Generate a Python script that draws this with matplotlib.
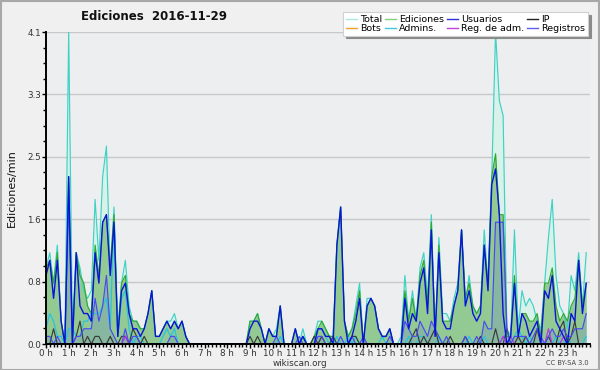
import matplotlib
matplotlib.use("Agg")
import matplotlib.pyplot as plt
import numpy as np
from matplotlib.ticker import MultipleLocator, FixedLocator, FuncFormatter
from matplotlib.lines import Line2D
from matplotlib.patches import Rectangle

# 10-minute slots, values in edits/min (6 per hour, 24 hours)
total = [
    1.0, 1.2, 0.8, 1.3, 0.3, 0.0,
    4.1, 0.2, 1.2, 1.0, 0.7, 0.6,
    0.7, 1.9, 1.1, 2.2, 2.6, 0.9,
    1.8, 0.2, 0.8, 1.1, 0.5, 0.3,
    0.3, 0.2, 0.2, 0.4, 0.7, 0.1,
    0.1, 0.2, 0.3, 0.3, 0.4, 0.2,
    0.3, 0.1, 0.0, 0.0, 0.0, 0.0,
    0.0, 0.0, 0.0, 0.0, 0.0, 0.0,
    0.0, 0.0, 0.0, 0.0, 0.0, 0.0,
    0.3, 0.3, 0.4, 0.2, 0.0, 0.2,
    0.1, 0.2, 0.5, 0.0, 0.0, 0.0,
    0.2, 0.0, 0.2, 0.0, 0.0, 0.1,
    0.3, 0.3, 0.2, 0.1, 0.1, 1.3,
    1.8, 0.3, 0.1, 0.2, 0.5, 0.8,
    0.0, 0.6, 0.6, 0.5, 0.2, 0.1,
    0.1, 0.2, 0.0, 0.0, 0.1, 0.9,
    0.3, 0.7, 0.3, 1.0, 1.2, 0.6,
    1.7, 0.1, 1.4, 0.4, 0.4, 0.3,
    0.6, 0.8, 1.5, 0.5, 0.9, 0.5,
    0.4, 0.5, 1.5, 0.8, 2.2, 4.1,
    3.2, 3.0, 0.2, 0.1, 1.5, 0.2,
    0.7, 0.5, 0.6, 0.5, 0.3, 0.2,
    0.8, 1.4, 1.9, 0.9, 0.5, 0.4,
    0.2, 0.9, 0.7, 1.2, 0.5, 1.2,
]
ediciones = [
    1.0, 1.1, 0.8, 1.2, 0.3, 0.0,
    2.2, 0.0, 1.2, 0.9, 0.8, 0.5,
    0.4, 1.3, 0.9, 1.6, 1.7, 1.0,
    1.7, 0.1, 0.8, 0.9, 0.4, 0.3,
    0.3, 0.2, 0.2, 0.4, 0.7, 0.1,
    0.1, 0.2, 0.3, 0.2, 0.3, 0.2,
    0.3, 0.1, 0.0, 0.0, 0.0, 0.0,
    0.0, 0.0, 0.0, 0.0, 0.0, 0.0,
    0.0, 0.0, 0.0, 0.0, 0.0, 0.0,
    0.3, 0.3, 0.4, 0.2, 0.0, 0.2,
    0.1, 0.1, 0.5, 0.0, 0.0, 0.0,
    0.2, 0.0, 0.1, 0.0, 0.0, 0.1,
    0.2, 0.3, 0.2, 0.1, 0.1, 1.3,
    1.8, 0.3, 0.1, 0.2, 0.4, 0.7,
    0.0, 0.5, 0.6, 0.5, 0.2, 0.1,
    0.1, 0.2, 0.0, 0.0, 0.0, 0.7,
    0.3, 0.6, 0.3, 0.9, 1.1, 0.5,
    1.6, 0.1, 1.3, 0.3, 0.3, 0.3,
    0.5, 0.7, 1.5, 0.6, 0.8, 0.5,
    0.4, 0.5, 1.3, 0.8, 2.2, 2.5,
    1.7, 1.7, 0.1, 0.1, 0.9, 0.1,
    0.4, 0.4, 0.3, 0.3, 0.4, 0.1,
    0.8, 0.8, 1.0, 0.5, 0.3, 0.4,
    0.3, 0.5, 0.6, 1.1, 0.5, 0.8,
]
usuarios = [
    0.9, 1.1, 0.6, 1.1, 0.3, 0.0,
    2.2, 0.0, 1.2, 0.5, 0.4, 0.4,
    0.3, 1.2, 0.8, 1.6, 1.7, 0.9,
    1.6, 0.1, 0.7, 0.8, 0.4, 0.2,
    0.2, 0.1, 0.2, 0.4, 0.7, 0.1,
    0.1, 0.2, 0.3, 0.2, 0.3, 0.2,
    0.3, 0.1, 0.0, 0.0, 0.0, 0.0,
    0.0, 0.0, 0.0, 0.0, 0.0, 0.0,
    0.0, 0.0, 0.0, 0.0, 0.0, 0.0,
    0.2, 0.3, 0.3, 0.2, 0.0, 0.2,
    0.1, 0.1, 0.5, 0.0, 0.0, 0.0,
    0.2, 0.0, 0.1, 0.0, 0.0, 0.0,
    0.2, 0.2, 0.1, 0.1, 0.0, 1.3,
    1.8, 0.3, 0.0, 0.1, 0.3, 0.6,
    0.0, 0.5, 0.6, 0.5, 0.2, 0.1,
    0.1, 0.2, 0.0, 0.0, 0.0, 0.6,
    0.2, 0.4, 0.3, 0.8, 1.0, 0.4,
    1.5, 0.1, 1.2, 0.3, 0.2, 0.2,
    0.5, 0.7, 1.5, 0.5, 0.7, 0.4,
    0.3, 0.4, 1.3, 0.7, 2.1, 2.3,
    1.7, 0.4, 0.0, 0.1, 0.8, 0.1,
    0.4, 0.3, 0.1, 0.2, 0.3, 0.0,
    0.7, 0.6, 0.9, 0.3, 0.2, 0.1,
    0.0, 0.4, 0.3, 1.1, 0.4, 0.8,
]
ip = [
    0.0, 0.0, 0.2, 0.0, 0.0, 0.0,
    0.0, 0.0, 0.1, 0.3, 0.0, 0.1,
    0.0, 0.1, 0.1, 0.0, 0.0, 0.1,
    0.0, 0.0, 0.1, 0.1, 0.0, 0.2,
    0.1, 0.0, 0.1, 0.0, 0.0, 0.0,
    0.0, 0.0, 0.0, 0.0, 0.0, 0.0,
    0.0, 0.0, 0.0, 0.0, 0.0, 0.0,
    0.0, 0.0, 0.0, 0.0, 0.0, 0.0,
    0.0, 0.0, 0.0, 0.0, 0.0, 0.0,
    0.1, 0.0, 0.1, 0.0, 0.0, 0.0,
    0.0, 0.0, 0.0, 0.0, 0.0, 0.0,
    0.0, 0.0, 0.0, 0.0, 0.0, 0.1,
    0.0, 0.1, 0.0, 0.0, 0.1, 0.0,
    0.0, 0.0, 0.0, 0.1, 0.1, 0.0,
    0.0, 0.0, 0.0, 0.0, 0.0, 0.0,
    0.0, 0.0, 0.0, 0.0, 0.0, 0.0,
    0.0, 0.1, 0.2, 0.0, 0.1, 0.0,
    0.1, 0.2, 0.0, 0.0, 0.0, 0.1,
    0.0, 0.0, 0.0, 0.1, 0.0, 0.0,
    0.0, 0.1, 0.0, 0.0, 0.0, 0.2,
    0.0, 0.0, 0.2, 0.0, 0.0, 0.1,
    0.0, 0.1, 0.0, 0.0, 0.2, 0.0,
    0.0, 0.1, 0.0, 0.0, 0.2, 0.3,
    0.0, 0.1, 0.3, 0.0, 0.0, 0.0,
]
admins = [
    0.2, 0.4, 0.3, 0.1, 0.1, 0.0,
    0.2, 0.2, 0.1, 0.1, 0.3, 0.3,
    0.4, 0.4, 0.4, 0.5, 0.6, 0.2,
    1.7, 0.1, 0.6, 0.7, 0.2, 0.0,
    0.1, 0.1, 0.0, 0.0, 0.0, 0.0,
    0.0, 0.1, 0.2, 0.1, 0.2, 0.0,
    0.0, 0.0, 0.0, 0.0, 0.0, 0.0,
    0.0, 0.0, 0.0, 0.0, 0.0, 0.0,
    0.0, 0.0, 0.0, 0.0, 0.0, 0.0,
    0.0, 0.0, 0.0, 0.0, 0.0, 0.0,
    0.0, 0.0, 0.1, 0.0, 0.0, 0.0,
    0.0, 0.0, 0.1, 0.0, 0.0, 0.0,
    0.2, 0.2, 0.1, 0.0, 0.0, 0.1,
    0.0, 0.0, 0.1, 0.0, 0.1, 0.0,
    0.0, 0.0, 0.0, 0.0, 0.0, 0.1,
    0.0, 0.0, 0.0, 0.0, 0.0, 0.0,
    0.1, 0.0, 0.0, 0.1, 0.1, 0.0,
    0.0, 0.0, 0.1, 0.0, 0.0, 0.0,
    0.0, 0.0, 0.0, 0.0, 0.1, 0.0,
    0.0, 0.0, 0.1, 0.0, 0.0, 0.0,
    0.0, 0.1, 0.0, 0.0, 0.1, 0.2,
    0.1, 0.0, 0.1, 0.0, 0.0, 0.0,
    0.0, 0.1, 0.0, 0.1, 0.0, 0.0,
    0.1, 0.0, 0.0, 0.0, 0.0, 0.1,
]
registros = [
    0.1, 0.1, 0.0, 0.1, 0.0, 0.0,
    1.9, 0.0, 0.1, 0.1, 0.2, 0.2,
    0.2, 0.6, 0.3, 0.5, 0.9, 0.2,
    0.1, 0.0, 0.0, 0.2, 0.0, 0.1,
    0.1, 0.0, 0.0, 0.0, 0.0, 0.0,
    0.0, 0.0, 0.0, 0.1, 0.1, 0.0,
    0.0, 0.0, 0.0, 0.0, 0.0, 0.0,
    0.0, 0.0, 0.0, 0.0, 0.0, 0.0,
    0.0, 0.0, 0.0, 0.0, 0.0, 0.0,
    0.0, 0.0, 0.0, 0.0, 0.0, 0.0,
    0.0, 0.1, 0.0, 0.0, 0.0, 0.0,
    0.0, 0.1, 0.0, 0.0, 0.0, 0.0,
    0.1, 0.1, 0.0, 0.0, 0.0, 0.0,
    0.1, 0.0, 0.0, 0.1, 0.0, 0.0,
    0.1, 0.0, 0.0, 0.0, 0.0, 0.0,
    0.0, 0.1, 0.0, 0.0, 0.0, 0.3,
    0.2, 0.1, 0.1, 0.3, 0.2, 0.1,
    0.3, 0.2, 0.1, 0.0, 0.1, 0.0,
    0.0, 0.0, 0.0, 0.1, 0.0, 0.0,
    0.1, 0.0, 0.3, 0.2, 0.2, 1.6,
    1.6, 1.6, 0.2, 0.0, 0.1, 0.1,
    0.1, 0.1, 0.0, 0.1, 0.2, 0.1,
    0.0, 0.1, 0.2, 0.1, 0.1, 0.2,
    0.1, 0.1, 0.2, 0.2, 0.2, 0.4,
]
reg_adm = [0.0] * 144
reg_adm_points = {21: 0.1, 121: 0.1, 123: 0.1, 133: 0.2, 137: 0.1}
bots = [0.0] * 144

hour_labels = [f"{h} h" for h in range(24)]
y_max = 4.1

for k, v in reg_adm_points.items():
    reg_adm[k] = v

x = np.arange(len(total)) / 6.0

fig = plt.figure(figsize=(6.0, 3.7), dpi=100, facecolor="#f0f0f0")
ax = fig.add_axes([46 / 600, 1 - 344 / 370, 544 / 600, (344 - 32) / 370])
ax.set_facecolor("#edeef0")

ax.fill_between(x, total, color="#d8f2ea", zorder=1, lw=0)
ax.fill_between(x, ediciones, color="#93c993", zorder=2, lw=0)
ax.fill_between(x, registros, color="#4a5af0", alpha=0.16, zorder=3, lw=0)

lw = 0.85
ax.plot(x, total, color="#3ed2c4", lw=lw, zorder=4)
ax.plot(x, admins, color="#22c4e6", lw=lw, zorder=5)
ax.plot(x, ediciones, color="#2faa2f", lw=lw, zorder=5)
ax.plot(x, bots, color="#f0a030", lw=lw, zorder=5)
ax.plot(x, ip, color="#3a3a3a", lw=lw, zorder=6)
ax.plot(x, reg_adm, color="#c030e0", lw=lw, zorder=6)
ax.plot(x, registros, color="#4a4af2", lw=lw, zorder=7)
ax.plot(x, usuarios, color="#0a14d8", lw=1.0, zorder=8)

ax.set_xlim(0, 24)
ax.set_ylim(0, y_max)

for s in ["top", "right"]:
    ax.spines[s].set_visible(False)
for s in ["left", "bottom"]:
    ax.spines[s].set_linewidth(1.4)
    ax.spines[s].set_color("black")
    ax.spines[s].set_zorder(20)

ax.xaxis.set_major_locator(FixedLocator(range(24)))
ax.set_xticklabels(hour_labels)
ax.xaxis.set_minor_locator(MultipleLocator(1 / 6))
ax.yaxis.set_major_locator(FixedLocator(np.linspace(0, y_max, 6)))
ax.yaxis.set_minor_locator(MultipleLocator(y_max / 20))
ax.yaxis.set_major_formatter(FuncFormatter(lambda v, p: f"{v:.1f}"))
ax.tick_params(axis="both", which="major", labelsize=6.3, length=3, width=1,
               color="black", labelcolor="#333333", pad=0.5)
ax.tick_params(axis="both", which="minor", length=2.2, width=1, color="black")
ax.grid(axis="y", which="major", color="#c8c8c8", lw=1.0, zorder=0)
ax.set_axisbelow(True)

fig.text(154 / 600, 1 - 17 / 370, "Ediciones  2016-11-29", fontsize=8.5,
         fontweight="bold", ha="center", va="center", color="#111111")
fig.text(12 / 600, 1 - 188 / 370, "Ediciones/min", rotation=90, fontsize=8,
         ha="center", va="center", color="#111111")
fig.text(300 / 600, 1 - 363.5 / 370, "wikiscan.org", fontsize=6.3, ha="center",
         va="center", color="#333333")
fig.text(589 / 600, 1 - 363 / 370, "CC BY-SA 3.0", fontsize=4.8, ha="right",
         va="center", color="#444444")

handles = [
    Line2D([], [], color="#a8e8e0", lw=1.0),
    Line2D([], [], color="#f0a030", lw=1.0),
    Line2D([], [], color="#80d080", lw=1.0),
    Line2D([], [], color="#40c8e0", lw=1.0),
    Line2D([], [], color="#3030e0", lw=1.0),
    Line2D([], [], color="#c040e0", lw=1.0),
    Line2D([], [], color="#222222", lw=1.0),
    Line2D([], [], color="#6060f0", lw=1.0),
]
labels = ["Total", "Bots", "Ediciones", "Admins.", "Usuarios",
          "Reg. de adm.", "IP", "Registros"]
leg = fig.legend(handles, labels, ncol=4, loc="upper right",
                 bbox_to_anchor=(588 / 600, 1 - 12 / 370), fontsize=6.8,
                 frameon=True, fancybox=False, borderaxespad=0,
                 handlelength=1.2, handletextpad=0.3, columnspacing=0.3,
                 labelspacing=0.0, borderpad=0.3,
                 shadow={"facecolor": "#8a8a8a", "edgecolor": "#8a8a8a", "alpha": 1})
leg.get_frame().set_edgecolor("#d0d0d0")
leg.get_frame().set_facecolor("white")
leg.get_frame().set_linewidth(0.8)
leg.set_zorder(30)

fig.patches.append(Rectangle((0.001, 0.001), 0.998, 0.997, transform=fig.transFigure,
                             fill=False, edgecolor="#a8a8a8", lw=1.5))

fig.savefig("out.png", dpi=100, facecolor=fig.get_facecolor())
